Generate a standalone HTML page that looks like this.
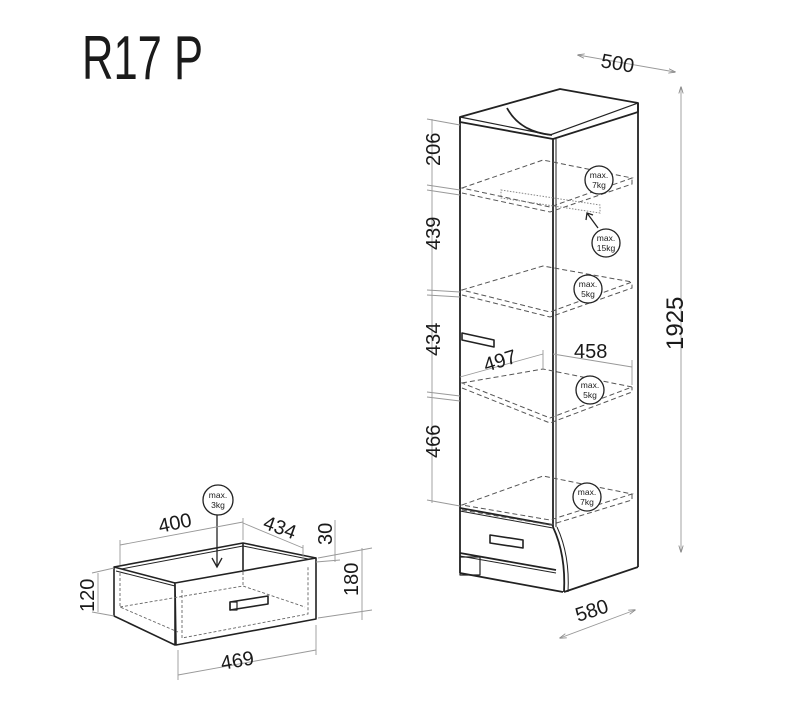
<!DOCTYPE html>
<html><head><meta charset="utf-8"><style>
html,body{margin:0;padding:0;background:#fff}
svg{display:block}
text{font-family:"Liberation Sans",sans-serif;fill:#1a1a1a}
</style></head><body>
<svg width="800" height="716" viewBox="0 0 800 716" xmlns="http://www.w3.org/2000/svg">
<defs>
<marker id="ar" viewBox="0 0 10 10" refX="9" refY="5" markerWidth="8" markerHeight="8" orient="auto-start-reverse"><path d="M0,2 L10,5 L0,8" fill="none" stroke="#888" stroke-width="1.2"/></marker>
</defs>
<text x="82" y="79" font-size="62" textLength="121" lengthAdjust="spacingAndGlyphs">R17 P</text>

<!-- Cabinet -->
<g fill="none" stroke="#222" stroke-width="1.8" stroke-linejoin="round">
  <path d="M460,117 L535,96 L560,89 L638,103 L638,112 L553,139 L460,122 Z" fill="#fff"/>
  <path d="M507,108 Q520,132 552,135" />
  <path d="M460,117 L550,135 L638,103" stroke-width="1.2"/>
  <line x1="460" y1="117" x2="460" y2="573"/>
  <line x1="553" y1="139" x2="553" y2="527"/>
  <line x1="556" y1="139" x2="556" y2="527" stroke-width="1"/>
  <line x1="638" y1="103" x2="638" y2="567"/>
  <path d="M553,527 Q566,555 564,592"/>
  <path d="M557,527 Q570,555 568,592" stroke-width="1"/>
  <line x1="564" y1="592" x2="638" y2="567"/>
  <line x1="460" y1="508" x2="553" y2="525"/>
  <line x1="460" y1="511" x2="553" y2="528" stroke-width="1"/>
  <line x1="460" y1="553" x2="556" y2="570"/>
  <line x1="460" y1="556" x2="556" y2="573" stroke-width="1"/>
  <line x1="460" y1="573" x2="563" y2="592"/>
  <rect x="460" y="557" width="20" height="18" stroke-width="1.2"/>
  <path d="M462,333 L494,340 L494,347 L462,340 Z" stroke-width="1.6"/>
  <path d="M490,535 L523,540 L523,548 L490,543 Z" stroke-width="1.6"/>
</g>
<!-- Shelves -->
<g fill="none" stroke="#555" stroke-width="1" stroke-dasharray="5,3">
  <path d="M462,188 L543,160 L632,178 L550,207 Z M462,193 L550,212 L632,184 L632,178"/>
  <path d="M462,290 L543,266 L632,282 L550,312 Z M462,295 L550,317 L632,288 L632,282"/>
  <path d="M462,383 L543,369 L632,387 L550,418 Z M462,388 L550,423 L632,392 L632,387"/>
  <path d="M462,505 L543,476 L632,494 L550,520 Z M462,510 L550,525 L632,500 L632,494"/>
  <path d="M501,190 L600,205 L600,213 L501,198 Z" stroke-dasharray="1.5,1.5" stroke="#888"/>
</g>
<!-- load circles -->
<g fill="#fff" stroke="#222" stroke-width="1.3">
  <circle cx="599" cy="180" r="14"/><circle cx="606" cy="243" r="14"/>
  <circle cx="588" cy="289" r="14"/><circle cx="590" cy="390" r="14"/>
  <circle cx="587" cy="497" r="14"/><circle cx="218" cy="500" r="15"/>
</g>
<line x1="598" y1="228" x2="587" y2="213" stroke="#222" stroke-width="1.3"/>
<path d="M586,220 L587,213 L593,215" fill="none" stroke="#222" stroke-width="1.3"/>
<g font-size="8.5" text-anchor="middle">
  <text x="599" y="178">max.</text><text x="599" y="188">7kg</text>
  <text x="606" y="241">max.</text><text x="606" y="251">15kg</text>
  <text x="588" y="287">max.</text><text x="588" y="297">5kg</text>
  <text x="590" y="388">max.</text><text x="590" y="398">5kg</text>
  <text x="587" y="495">max.</text><text x="587" y="505">7kg</text>
  <text x="218" y="498">max.</text><text x="218" y="508">3kg</text>
</g>
<!-- dimension lines cabinet -->
<g stroke="#999" stroke-width="0.9" fill="none">
  <line x1="432" y1="119" x2="432" y2="503"/>
  <line x1="427" y1="119" x2="460" y2="125"/>
  <line x1="427" y1="185" x2="460" y2="190"/><line x1="427" y1="190" x2="460" y2="195"/>
  <line x1="427" y1="290" x2="460" y2="292"/><line x1="427" y1="295" x2="460" y2="297"/>
  <line x1="427" y1="392" x2="460" y2="396"/><line x1="427" y1="397" x2="460" y2="401"/>
  <line x1="427" y1="500" x2="460" y2="506"/>
  <line x1="681" y1="87" x2="681" y2="552" marker-start="url(#ar)" marker-end="url(#ar)"/>
  <line x1="578" y1="55" x2="675" y2="72" marker-start="url(#ar)" marker-end="url(#ar)"/>
  <line x1="560" y1="638" x2="635" y2="610" marker-start="url(#ar)" marker-end="url(#ar)"/>
  <line x1="460" y1="377" x2="543" y2="354"/><line x1="543" y1="350" x2="543" y2="370"/>
  <line x1="553" y1="354" x2="632" y2="367"/><line x1="632" y1="360" x2="632" y2="385"/>
</g>
<g font-size="20">
  <text transform="translate(440,166) rotate(-90)">206</text>
  <text transform="translate(440,250) rotate(-90)">439</text>
  <text transform="translate(440,356) rotate(-90)">434</text>
  <text transform="translate(440,458) rotate(-90)">466</text>
  <text transform="translate(683,350) rotate(-90)" font-size="24">1925</text>
  <text transform="translate(600,67) rotate(10)">500</text>
  <text transform="translate(578,622) rotate(-18)">580</text>
  <text transform="translate(486,372) rotate(-17)">497</text>
  <text x="574" y="358">458</text>
</g>

<!-- Drawer -->
<g fill="none" stroke="#222" stroke-width="1.6" stroke-linejoin="round">
  <path d="M114,567 L243,543 L316,558"/>
  <path d="M116,570 L243,546 L313,560" stroke-width="1"/>
  <line x1="243" y1="543" x2="243" y2="570"/>
  <path d="M114,567 L175,583 L175,645 L114,616 Z" fill="#fff"/>
  <path d="M116,571 L175,586" stroke-width="1"/>
  <path d="M175,583 L316,558 L316,619 L176,645 Z" fill="#fff"/>
  <path d="M230,602 L268,596 L268,604 L230,610 Z"/>
  <rect x="230" y="602" width="7" height="8" stroke-width="1.2"/>
</g>
<g fill="none" stroke="#666" stroke-width="0.9" stroke-dasharray="3,2">
  <path d="M120,573 L120,607 L178,632"/>
  <path d="M120,607 L243,586 L305,607"/>
  <path d="M243,572 L243,586"/>
  <path d="M182,590 L182,638 L308,614 L308,567"/>
</g>
<line x1="217" y1="515" x2="217" y2="566" stroke="#222" stroke-width="1.3"/>
<path d="M212,558 L217,567 L222,558" fill="none" stroke="#222" stroke-width="1.3"/>
<g stroke="#999" stroke-width="0.9" fill="none">
  <line x1="120" y1="545" x2="243" y2="522"/><line x1="120" y1="540" x2="120" y2="565"/><line x1="243" y1="518" x2="243" y2="540"/>
  <line x1="243" y1="523" x2="303" y2="548"/><line x1="303" y1="545" x2="303" y2="560"/>
  <line x1="335" y1="520" x2="335" y2="562"/><line x1="316" y1="562" x2="340" y2="560"/>
  <line x1="362" y1="548" x2="362" y2="620"/><line x1="318" y1="558" x2="372" y2="548"/><line x1="318" y1="618" x2="372" y2="610"/>
  <line x1="98" y1="573" x2="98" y2="612"/><line x1="92" y1="573" x2="114" y2="568"/><line x1="92" y1="612" x2="114" y2="616"/>
  <line x1="178" y1="675" x2="316" y2="650"/><line x1="178" y1="650" x2="178" y2="680"/><line x1="316" y1="625" x2="316" y2="655"/>
</g>
<g font-size="20">
  <text transform="translate(160,533) rotate(-12)">400</text>
  <text transform="translate(262,528) rotate(20)">434</text>
  <text transform="translate(332,545) rotate(-90)">30</text>
  <text transform="translate(358,596) rotate(-90)">180</text>
  <text transform="translate(94,612) rotate(-90)">120</text>
  <text transform="translate(222,670) rotate(-10)">469</text>
</g>
</svg>
</body></html>
